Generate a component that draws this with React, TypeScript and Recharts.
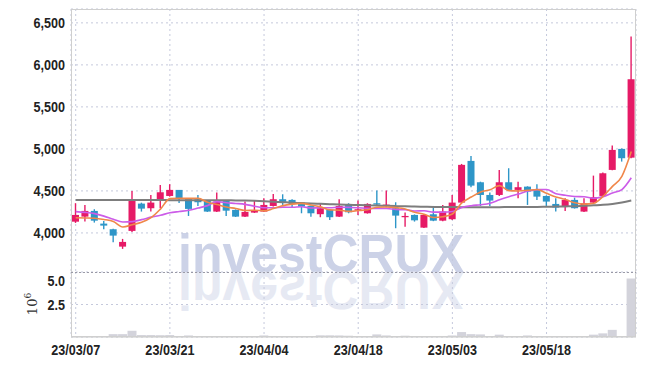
import React from 'react';
import { ComposedChart, Bar, Line, XAxis, YAxis, CartesianGrid } from 'recharts';

// trading days 23/03/07 .. 23/06/01
const dates = [
  '23/03/07', '23/03/08', '23/03/09', '23/03/10', '23/03/13', '23/03/14', '23/03/15', '23/03/16', '23/03/17', '23/03/20',
  '23/03/21', '23/03/22', '23/03/23', '23/03/24', '23/03/27', '23/03/28', '23/03/29', '23/03/30', '23/03/31', '23/04/03',
  '23/04/04', '23/04/05', '23/04/06', '23/04/07', '23/04/10', '23/04/11', '23/04/12', '23/04/13', '23/04/14', '23/04/17',
  '23/04/18', '23/04/19', '23/04/20', '23/04/21', '23/04/24', '23/04/25', '23/04/26', '23/04/27', '23/04/28', '23/05/02',
  '23/05/03', '23/05/04', '23/05/08', '23/05/09', '23/05/10', '23/05/11', '23/05/12', '23/05/15', '23/05/16', '23/05/17',
  '23/05/18', '23/05/19', '23/05/22', '23/05/23', '23/05/24', '23/05/25', '23/05/26', '23/05/30', '23/05/31', '23/06/01',
];

const opens = [
  4134, 4194, 4262, 4111, 4044, 3837, 4024, 4349, 4294, 4393,
  4440, 4512, 4405, 4401, 4385, 4254, 4385, 4274, 4194, 4242,
  4254, 4321, 4401, 4393, 4361, 4321, 4223, 4274, 4194, 4333,
  4266, 4234, 4353, 4321, 4294, 4187, 4214, 4063, 4222, 4146,
  4163, 4361, 4857, 4603, 4452, 4452, 4603, 4512, 4551, 4520,
  4440, 4345, 4313, 4393, 4254, 4361, 4440, 4750, 5000, 4896,
];
const highs = [
  4354, 4333, 4282, 4143, 4050, 3929, 4500, 4360, 4452, 4571,
  4580, 4512, 4410, 4452, 4390, 4480, 4390, 4280, 4373, 4385,
  4413, 4464, 4460, 4400, 4365, 4325, 4342, 4280, 4401, 4353,
  4385, 4353, 4504, 4504, 4365, 4242, 4220, 4220, 4321, 4333,
  4452, 4821, 4917, 4610, 4480, 4750, 4770, 4610, 4555, 4580,
  4445, 4413, 4413, 4420, 4413, 4682, 4720, 5040, 5005, 6337,
];
const lows = [
  4119, 4135, 4123, 4044, 3889, 3810, 4010, 4254, 4254, 4294,
  4432, 4357, 4202, 4321, 4250, 4250, 4202, 4190, 4190, 4238,
  4250, 4315, 4333, 4306, 4234, 4194, 4187, 4155, 4190, 4234,
  4214, 4230, 4321, 4306, 4056, 4075, 4135, 4060, 4140, 4140,
  4155, 4355, 4544, 4321, 4321, 4440, 4510, 4413, 4333, 4393,
  4321, 4254, 4262, 4290, 4250, 4355, 4435, 4745, 4849, 4890,
];
const closes = [
  4214, 4262, 4146, 4087, 3968, 3893, 4393, 4289, 4361, 4484,
  4512, 4413, 4286, 4365, 4254, 4373, 4265, 4194, 4250, 4270,
  4333, 4401, 4369, 4342, 4313, 4234, 4294, 4187, 4321, 4246,
  4282, 4345, 4337, 4337, 4206, 4202, 4150, 4214, 4146, 4254,
  4361, 4810, 4563, 4452, 4385, 4603, 4512, 4544, 4492, 4432,
  4373, 4301, 4393, 4294, 4353, 4425, 4710, 4988, 4889, 5829,
];

// moving averages
const ma5 = [
  4180, 4178, 4175, 4160, 4135, 4071, 4097, 4126, 4181, 4284,
  4408, 4412, 4411, 4412, 4366, 4338, 4309, 4290, 4267, 4270,
  4262, 4290, 4325, 4343, 4352, 4332, 4310, 4274, 4270, 4256,
  4266, 4276, 4306, 4309, 4301, 4285, 4246, 4222, 4184, 4193,
  4225, 4357, 4427, 4488, 4514, 4563, 4503, 4499, 4507, 4517,
  4471, 4428, 4398, 4359, 4343, 4353, 4435, 4554, 4673, 4968,
];
const ma10 = [
  4254, 4245, 4230, 4200, 4162, 4130, 4135, 4158, 4188, 4210,
  4240, 4255, 4269, 4296, 4325, 4373, 4360, 4351, 4340, 4318,
  4300, 4299, 4307, 4305, 4311, 4297, 4300, 4299, 4306, 4304,
  4299, 4293, 4290, 4290, 4279, 4276, 4261, 4264, 4247, 4247,
  4255, 4302, 4324, 4336, 4354, 4394, 4430, 4463, 4498, 4515,
  4517, 4466, 4449, 4433, 4430, 4412, 4432, 4476, 4516, 4656,
];
const maLong = [
  4393, 4393, 4393, 4393, 4392, 4392, 4392, 4391, 4391, 4391,
  4390, 4390, 4390, 4389, 4389, 4389, 4388, 4387, 4386, 4383,
  4378, 4372, 4366, 4360, 4355, 4350, 4346, 4342, 4338, 4335,
  4332, 4329, 4326, 4323, 4320, 4317, 4314, 4312, 4310, 4309,
  4308, 4307, 4307, 4307, 4307, 4307, 4308, 4308, 4309, 4310,
  4312, 4314, 4316, 4318, 4322, 4328, 4334, 4345, 4362, 4385,
];

// volume, millions of shares
const volumes = [
  0.05, 0.04, 0.05, 0.04, 0.22, 0.22, 0.48, 0.15, 0.15, 0.14,
  0.15, 0.08, 0.12, 0.06, 0.05, 0.05, 0.05, 0.04, 0.05, 0.05,
  0.12, 0.08, 0.05, 0.04, 0.05, 0.05, 0.13, 0.13, 0.12, 0.1,
  0.05, 0.06, 0.2, 0.12, 0.07, 0.1, 0.05, 0.05, 0.06, 0.08,
  0.12, 0.38, 0.22, 0.2, 0.06, 0.18, 0.05, 0.06, 0.12, 0.05,
  0.04, 0.05, 0.06, 0.04, 0.05, 0.18, 0.28, 0.55, 0.06, 4.5,
];

const dateTicks = ['23/03/07', '23/03/21', '23/04/04', '23/04/18', '23/05/03', '23/05/18'];
const priceTicks = [4000, 4500, 5000, 5500, 6000, 6500];
const volumeTicks = [2.5, 5.0];

const UP = '#e61a66';
const DOWN = '#2e96c8';

const rows = dates.map((date, i) => ({
  date,
  open: opens[i],
  high: highs[i],
  low: lows[i],
  close: closes[i],
  range: [lows[i], highs[i]],
  ma5: ma5[i],
  ma10: ma10[i],
  maLong: maLong[i],
  volume: volumes[i],
}));

// narrow bold tick text (squeezed horizontally)
function NarrowTick(props: any) {
  const { x, y, payload, textAnchor, format, dy } = props;
  const label = format ? format(payload.value) : payload.value;
  return (
    <g transform={`translate(${x},${y}) scale(0.84,1)`}>
      <text x={0} y={0} dy={dy} textAnchor={textAnchor} fontFamily="Liberation Sans, Arial, sans-serif"
        fontWeight={700} fontSize={15} fill="#222">
        {label}
      </text>
    </g>
  );
}

function Candle(props: any) {
  const { x, y, width, height, payload } = props;
  if (!payload) return null;
  const { open, close, high, low } = payload;
  const color = close >= open ? UP : DOWN;
  const h = Math.abs(height);
  const top = height < 0 ? y + height : y;
  const perUnit = h / (high - low || 1);
  const bodyTop = top + (high - Math.max(open, close)) * perUnit;
  const bodyH = Math.max(1, Math.abs(close - open) * perUnit);
  const cx = x + width / 2;
  return (
    <g>
      <line x1={cx} x2={cx} y1={top} y2={top + h} stroke={color} strokeWidth={1.4} />
      <rect x={x} y={bodyTop} width={width} height={bodyH} fill={color} />
    </g>
  );
}

export default function App() {
  return (
    <div style={{ position: 'absolute', left: 0, top: 0, width: 645, height: 366, background: '#fff' }}>
      {/* watermark */}
      <svg width={645} height={366} style={{ position: 'absolute', left: 0, top: 0 }}>
        <text x={178} y={272} fontFamily="Liberation Sans, Arial, sans-serif" fontWeight="bold" fontSize={54}
          fill="#ccd2e7" textLength={286} lengthAdjust="spacingAndGlyphs">investCRUX</text>
        <text x={178} y={272} transform="translate(0,544) scale(1,-1)" fontFamily="Liberation Sans, Arial, sans-serif"
          fontWeight="bold" fontSize={54} fill="#e6e9f3" textLength={286} lengthAdjust="spacingAndGlyphs">investCRUX</text>
      </svg>

      {/* price panel */}
      <div style={{ position: 'absolute', left: 0, top: 0 }}>
        <ComposedChart width={645} height={272} data={rows} margin={{ top: 9, right: 9, bottom: 0, left: 8 }}>
          <CartesianGrid stroke="#c5c9dc" strokeDasharray="2 3" />
          <XAxis dataKey="date" hide ticks={dateTicks} interval={0} />
          <YAxis
            domain={[3535, 6665]}
            ticks={priceTicks}
            width={63}
            tickSize={0}
            tickMargin={6}
            axisLine={false}
            tick={<NarrowTick textAnchor="end" dy="0.35em" format={(v: number) => v.toLocaleString('en-US')} />}
          />
          <Bar dataKey="range" shape={<Candle />} barSize={7} isAnimationActive={false} />
          <Line dataKey="maLong" type="monotone" stroke="#7d7d7d" strokeWidth={2} dot={false} isAnimationActive={false} />
          <Line dataKey="ma10" type="monotone" stroke="#cc5ce8" strokeWidth={1.6} dot={false} isAnimationActive={false} />
          <Line dataKey="ma5" type="monotone" stroke="#f0874a" strokeWidth={1.6} dot={false} isAnimationActive={false} />
        </ComposedChart>
      </div>

      {/* volume panel */}
      <div style={{ position: 'absolute', left: 0, top: 272 }}>
        <ComposedChart width={645} height={94} data={rows} margin={{ top: 0, right: 9, bottom: 0, left: 8 }}>
          <CartesianGrid stroke="#c5c9dc" strokeDasharray="2 3" />
          <XAxis
            dataKey="date"
            ticks={dateTicks}
            interval={0}
            height={29}
            tickSize={0}
            tickMargin={7}
            axisLine={{ stroke: '#c8c8c8' }}
            tick={<NarrowTick textAnchor="middle" dy="0.71em" />}
          />
          <YAxis
            domain={[0, 5]}
            ticks={volumeTicks}
            width={63}
            tickSize={0}
            tickMargin={6}
            axisLine={false}
            tick={<NarrowTick textAnchor="end" dy="0.35em" format={(v: number) => v.toFixed(1)} />}
          />
          <Bar dataKey="volume" fill="#d3d3db" barSize={9} isAnimationActive={false} />
        </ComposedChart>
      </div>

      {/* frame and volume unit */}
      <svg width={645} height={366} style={{ position: 'absolute', left: 0, top: 0, pointerEvents: 'none' }}>
        <rect x={71.5} y={9.5} width={564} height={327} fill="none" stroke="#cfcfcf" />
        <line x1={71} x2={636} y1={272.5} y2={272.5} stroke="#9a9aa6" strokeDasharray="2 2" />
        <text transform="translate(37,304) rotate(-90)" textAnchor="middle" fontFamily="DejaVu Serif, serif" fontSize={13} fill="#333">
          10<tspan dy={-6} fontSize={9}>6</tspan>
        </text>
      </svg>
    </div>
  );
}
